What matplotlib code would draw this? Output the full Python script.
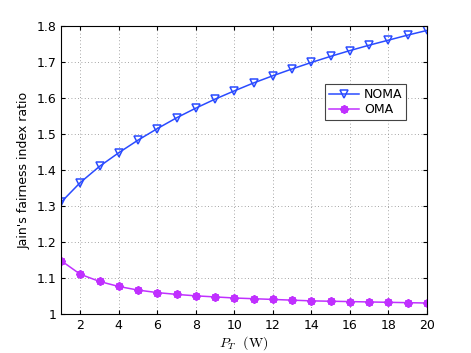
import matplotlib
matplotlib.use("Agg")
import matplotlib.pyplot as plt

pt = list(range(1, 21))
noma = [1.310, 1.365, 1.410, 1.448, 1.483, 1.515, 1.545, 1.572, 1.597, 1.620,
        1.642, 1.662, 1.681, 1.699, 1.716, 1.732, 1.747, 1.761, 1.775, 1.788]
oma = [1.148, 1.110, 1.090, 1.076, 1.066, 1.059, 1.054, 1.050, 1.047, 1.044,
       1.042, 1.040, 1.038, 1.036, 1.035, 1.034, 1.033, 1.032, 1.031, 1.030]

plt.rcParams['font.family'] = 'DejaVu Sans'
plt.rcParams['mathtext.fontset'] = 'cm'

fig = plt.figure(figsize=(4.71, 3.53), dpi=100)
ax = fig.add_axes([0.1295, 0.111, 0.777, 0.815])

ax.plot(pt, noma, color='#2a4bff', marker='v', markersize=6, markerfacecolor='none',
        markeredgewidth=1.1, linewidth=1.1, label='NOMA')
ax.plot(pt, oma, color='#c030ff', marker=(8, 2, 0), markersize=6, markeredgewidth=1.4,
        linewidth=1.1, label='OMA')

ax.set_xlim(1, 20)
ax.set_ylim(1, 1.8)
ax.set_xticks(range(2, 21, 2))
ax.set_yticks([1, 1.1, 1.2, 1.3, 1.4, 1.5, 1.6, 1.7, 1.8])
ax.set_yticklabels(['1', '1.1', '1.2', '1.3', '1.4', '1.5', '1.6', '1.7', '1.8'])
ax.tick_params(direction='in', top=True, right=True, labelsize=9, length=3)
ax.grid(True, linestyle=(0, (1, 3)), color='#888888', linewidth=0.6)
for s in ax.spines.values():
    s.set_linewidth(0.8)

ax.set_xlabel(r'$P_T\ \ (\mathrm{W})$', fontsize=10, labelpad=2)
ax.set_ylabel("Jain's fairness index ratio", fontsize=9)

leg = ax.legend(loc='upper left', bbox_to_anchor=(0.705, 0.82), fontsize=9,
                fancybox=False, edgecolor='#444444', framealpha=1,
                handlelength=2.4, handletextpad=0.4, borderpad=0.3, labelspacing=0.2)
leg.get_frame().set_linewidth(0.8)

fig.savefig('out.png', dpi=100)
